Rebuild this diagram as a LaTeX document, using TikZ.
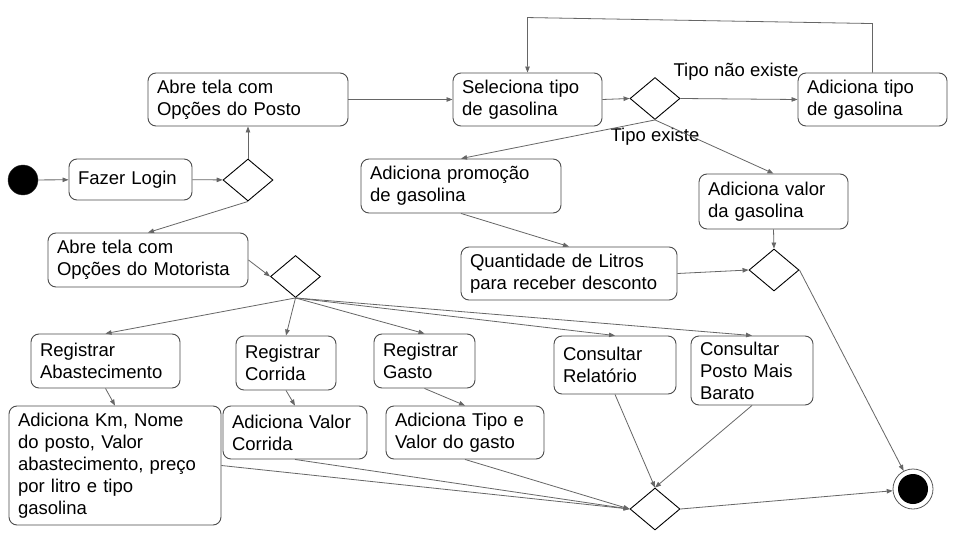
\documentclass[tikz,border=0pt]{standalone}
\usepackage{fontspec}
\setmainfont{Liberation Sans}
\usetikzlibrary{arrows.meta,shapes.geometric,calc}
\hyphenpenalty=10000
\exhyphenpenalty=10000
\newcommand\mybox[6]{%
  \pgfmathsetmacro\mybw{#4-#2}\pgfmathsetmacro\mybh{#5-#3}\pgfmathsetmacro\mytw{#4-#2-18}%
  \node[box, minimum width=\mybw pt, minimum height=\mybh pt, text width=\mytw pt] (#1) at ({(#2+#4)/2},{(#3+#5)/2}) {#6};}
\begin{document}
\begin{tikzpicture}[x=1pt,y=-1pt,
  box/.style={draw=black!70, line width=0.9pt, rounded corners=8pt, inner sep=0pt, align=left, font=\fontsize{18.5}{22}\selectfont},
  dec/.style={diamond, draw=black, line width=0.9pt, minimum width=50pt, minimum height=42pt, inner sep=0pt},
  arr/.style={draw=black!60, line width=0.8pt, -{Triangle[length=6pt,width=4.5pt]}},
  lbl/.style={font=\fontsize{18.5}{22}\selectfont, inner sep=0pt}]
\fill[white] (0,0) rectangle (960,540);
\useasboundingbox (0,0) rectangle (960,540);

\mybox{login}{69}{159}{192}{200}{Fazer Login}
\mybox{posto}{148}{73}{348}{126}{Abre tela com\\Opções do Posto}
\mybox{moto}{48}{233}{248}{287}{Abre tela com\\Opções do Motorista}
\mybox{sel}{453}{73}{602}{126}{Seleciona tipo\\de gasolina}
\mybox{addtipo}{798}{73}{947}{126}{Adiciona tipo\\de gasolina}
\mybox{promo}{361}{159}{561}{213}{Adiciona promoção\\de gasolina}
\mybox{valor}{699}{174}{848}{229}{Adiciona valor\\da gasolina}
\mybox{qtd}{461}{247}{677}{300}{Quantidade de Litros\\para receber desconto}
\mybox{rabs}{31}{334}{180}{388}{Registrar\\Abastecimento}
\mybox{rcor}{236}{336}{336}{390}{Registrar\\Corrida}
\mybox{rgas}{374}{334}{475}{388}{Registrar\\Gasto}
\mybox{crel}{554}{336}{676}{394}{Consultar\\Relatório}
\mybox{cpos}{691}{336}{813}{405}{Consultar\\Posto Mais\\Barato}
\mybox{km}{9}{406}{221}{525}{Adiciona Km, Nome\\do posto, Valor\\abastecimento, preço\\por litro e tipo\\gasolina}
\mybox{vcor}{223}{406}{367}{459}{Adiciona Valor\\Corrida}
\mybox{tval}{386}{406}{544}{459}{Adiciona Tipo e\\Valor do gasto}

\node[dec] (d1) at (248,180) {};
\node[dec] (d2) at (295.5,276.5) {};
\node[dec] (d3) at (655,98.5) {};
\node[dec] (d4) at (774,270) {};
\node[dec] (d5) at (655,509) {};

\node[circle, fill=black, draw=black!80, minimum size=30pt, inner sep=0pt] (start) at (23,180) {};
\node[circle, draw=black!65, line width=0.8pt, minimum size=40pt, inner sep=0pt] (end) at (913,489) {};
\node[circle, fill=black, minimum size=30pt, inner sep=0pt] (endin) at (end.center) {};

\node[lbl] (lne) at (736,72) {Tipo não existe};
\node[lbl] (lex) at (655,137) {Tipo existe};

\draw[arr] (start) -- (login);
\draw[arr] (login) -- (d1);
\draw[arr] (d1.north) -- (posto.south);
\draw[arr] (d1.south) -- (moto.north);
\draw[arr] (moto.east) -- (d2.west);
\draw[arr] (posto.east) -- (sel.west);
\draw[arr] (sel.east) -- (d3.west);
\draw[arr] (d3.east) -- (addtipo.west);
\draw[arr] (addtipo.north) -- ++(0,-49) -- ($(sel.north)+(0,-55)$) -- (sel.north);
\draw[arr] (d3.south) -- (promo.north);
\draw[arr] (d3.south) -- (valor.north);
\draw[arr] (promo.south) -- (qtd.north);
\draw[arr] (valor.south) -- (d4.north);
\draw[arr] (qtd.east) -- (d4.west);
\draw[arr] (d4.east) -- (end);
\draw[arr] (d2.south) -- (rabs.north);
\draw[arr] (d2.south) -- (rcor.north);
\draw[arr] (d2.south) -- (rgas.north);
\draw[arr] (d2.south) -- (crel.north);
\draw[arr] (d2.south) -- (cpos.north);
\draw[arr] (rabs.south) -- (km.north);
\draw[arr] (rcor.south) -- (vcor.north);
\draw[arr] (rgas.south) -- (tval.north);
\draw[arr] (km.east) -- (d5.west);
\draw[arr] (vcor.south) -- (d5.west);
\draw[arr] (tval.south) -- (d5.west);
\draw[arr] (crel.south) -- (d5.north);
\draw[arr] (cpos.south) -- (d5.north);
\draw[arr] (d5.east) -- (end);
\end{tikzpicture}
\end{document}
